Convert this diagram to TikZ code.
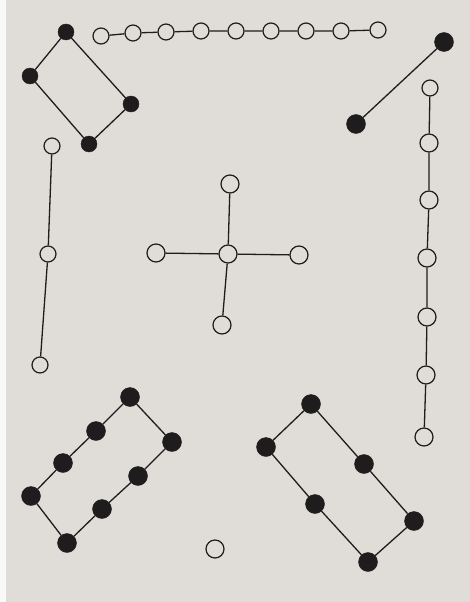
\documentclass[tikz,border=0pt]{standalone}
\usepackage{tikz}
\usetikzlibrary{positioning}
\definecolor{pagebg}{RGB}{224,221,216}
\definecolor{ink}{RGB}{30,28,28}

\begin{document}
\begin{tikzpicture}[x=1pt,y=-1pt,
  full/.style={circle,draw=ink,fill=ink,inner sep=0pt,minimum size=19pt},
  fullsm/.style={full,minimum size=16pt},
  hole/.style={circle,draw=ink,fill=none,line width=1.2pt,inner sep=0pt,minimum size=18pt},
  holesm/.style={hole,minimum size=16pt},
  edge/.style={draw=ink,line width=1.3pt}]
\fill[pagebg] (0,0) rectangle (470,602);
\fill[white!95!gray] (0,0) rectangle (6,602);
\useasboundingbox (0,0) rectangle (470,602);
% top left cycle
\node[fullsm] (a1) at (66,32) {};
\node[fullsm,minimum width=13pt] (a2) at (30,76) {};
\node[fullsm] (a3) at (131,104) {};
\node[fullsm] (a4) at (89,144) {};
\draw[edge] (a1) -- (a2) -- (a4) -- (a3) -- (a1);
% top path
\node[holesm] (p1) at (101,36) {};
\node[holesm] (p2) at (133,33) {};
\node[holesm] (p3) at (166,32) {};
\node[holesm] (p4) at (201,31) {};
\node[holesm] (p5) at (236,31) {};
\node[holesm] (p6) at (271,31) {};
\node[holesm] (p7) at (306,31) {};
\node[holesm] (p8) at (341,31) {};
\node[holesm] (p9) at (378,30) {};
\draw[edge] (p1) -- (p2) -- (p3) -- (p4) -- (p5) -- (p6) -- (p7) -- (p8) -- (p9);
% single edge
\node[full] (b1) at (444,42) {};
\node[full] (b2) at (356,124) {};
\draw[edge] (b1) -- (b2);
% right path
\node[holesm] (r1) at (430,88) {};
\node[hole] (r2) at (429,143) {};
\node[hole] (r3) at (429,200) {};
\node[hole] (r4) at (427,258) {};
\node[hole] (r5) at (427,317) {};
\node[hole] (r6) at (426,375) {};
\node[hole] (r7) at (424,437) {};
\draw[edge] (r1) -- (r2) -- (r3) -- (r4) -- (r5) -- (r6) -- (r7);
% left path
\node[holesm] (l1) at (52,146) {};
\node[holesm] (l2) at (48,254) {};
\node[holesm] (l3) at (40,365) {};
\draw[edge] (l1) -- (l2) -- (l3);
% star
\node[hole] (s0) at (228,254) {};
\node[hole] (s1) at (230,184) {};
\node[hole] (s2) at (156,253) {};
\node[hole] (s3) at (299,255) {};
\node[hole] (s4) at (222,325) {};
\draw[edge] (s0) -- (s1);
\draw[edge] (s0) -- (s2);
\draw[edge] (s0) -- (s3);
\draw[edge] (s0) -- (s4);
% bottom left cycle
\node[full] (c1) at (130,397) {};
\node[full] (c2) at (96,431) {};
\node[full] (c3) at (63,463) {};
\node[full] (c4) at (31,496) {};
\node[full] (c5) at (67,543) {};
\node[full] (c6) at (102,509) {};
\node[full] (c7) at (138,476) {};
\node[full] (c8) at (172,442) {};
\draw[edge] (c1) -- (c2) -- (c3) -- (c4) -- (c5) -- (c6) -- (c7) -- (c8) -- (c1);
% isolated vertex
\node[hole] (iso) at (215,549) {};
% bottom right cycle
\node[full] (d1) at (311,404) {};
\node[full] (d2) at (266,447) {};
\node[full] (d3) at (315,504) {};
\node[full] (d4) at (368,562) {};
\node[full] (d5) at (414,521) {};
\node[full] (d6) at (364,464) {};
\draw[edge] (d1) -- (d2) -- (d3) -- (d4) -- (d5) -- (d6) -- (d1);
\end{tikzpicture}
\end{document}
